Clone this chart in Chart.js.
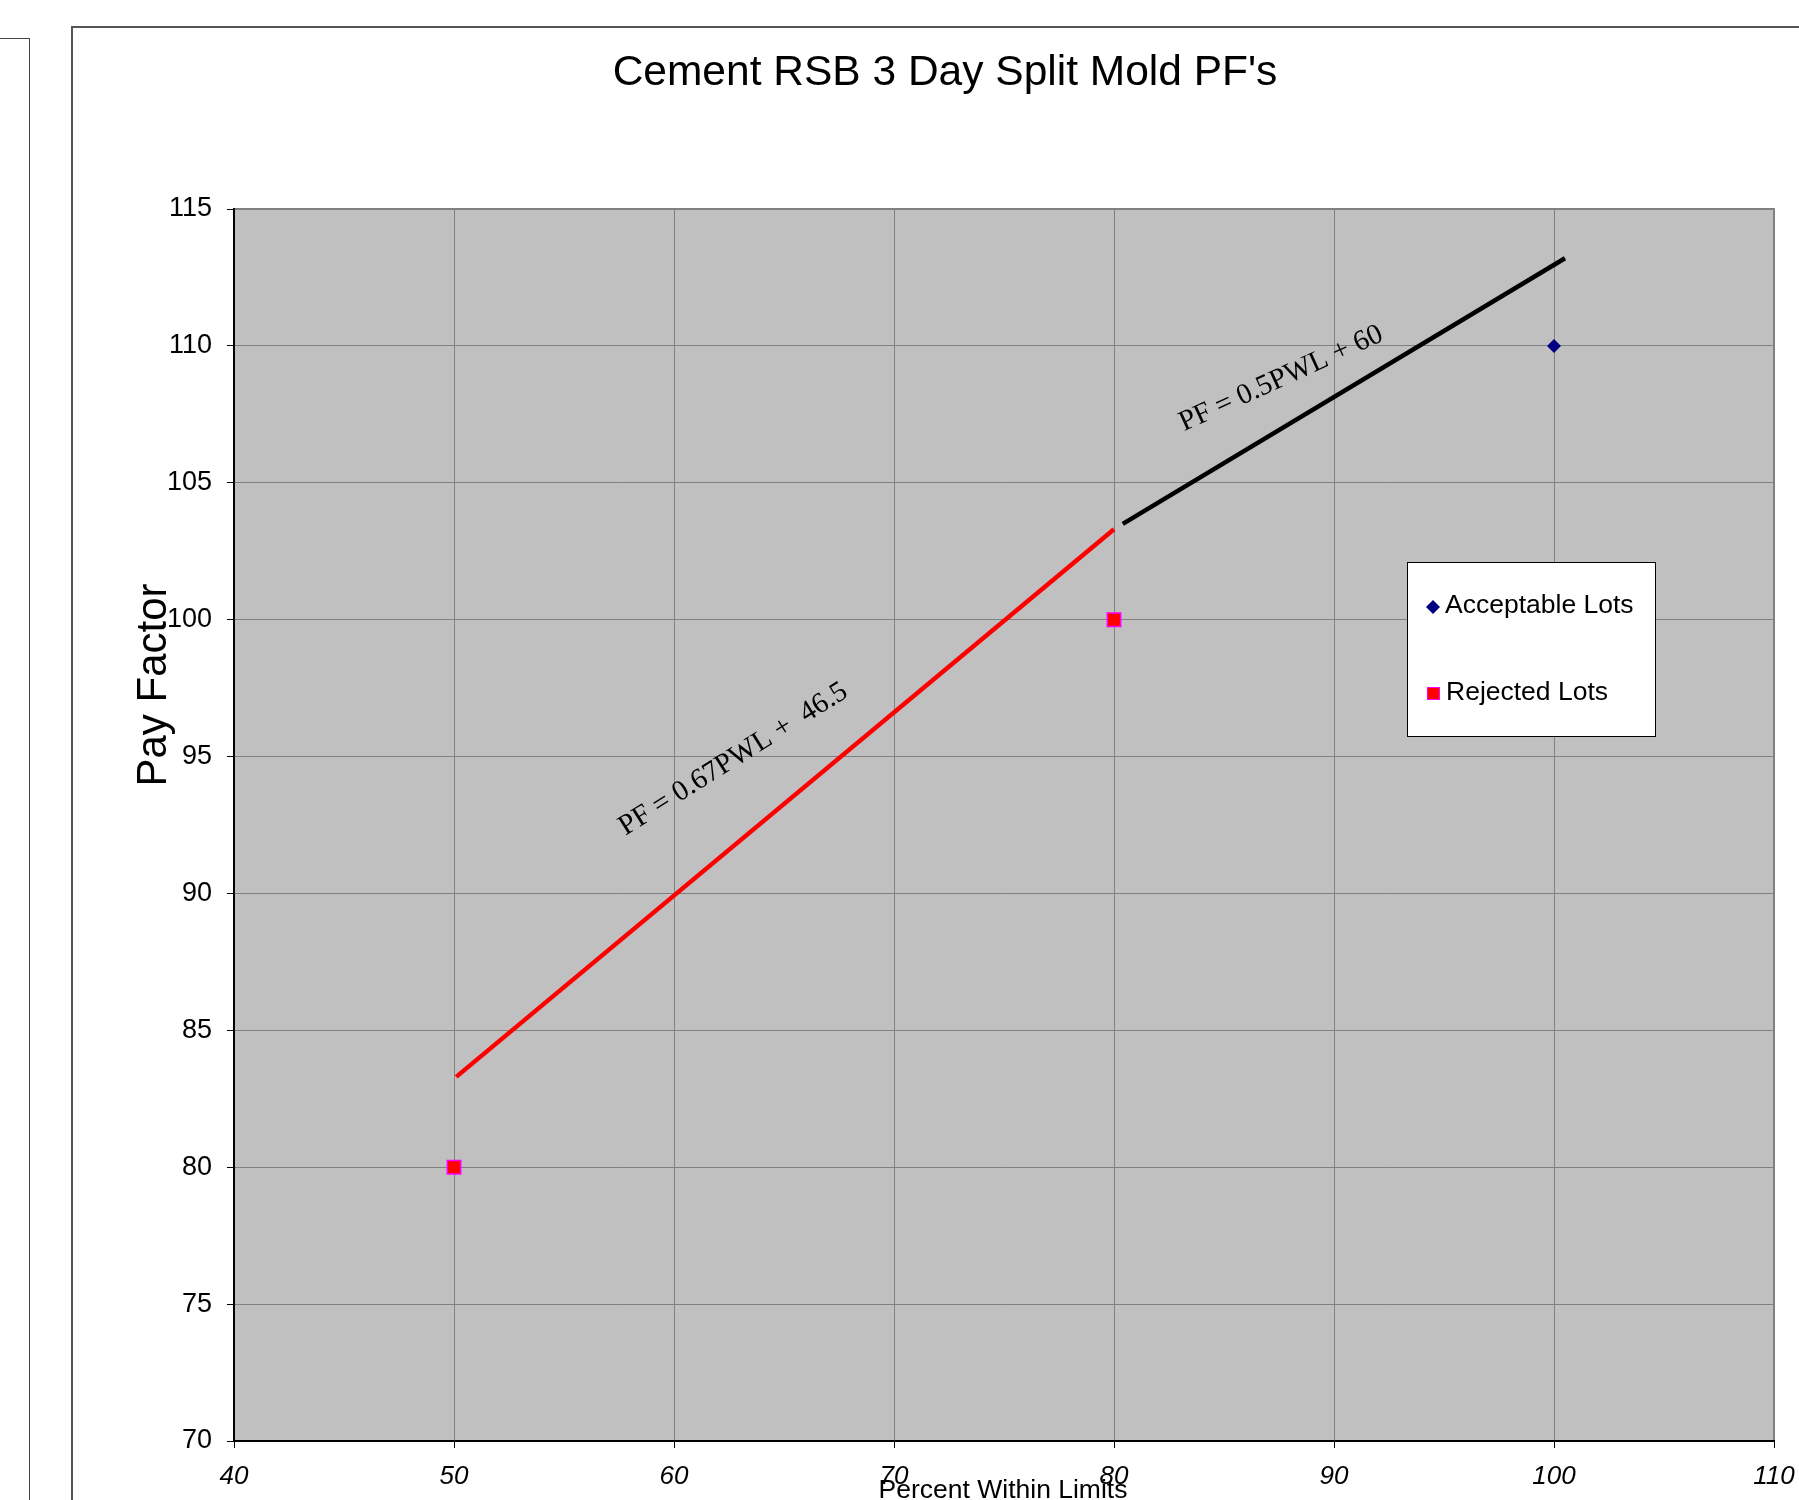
<!DOCTYPE html>
<html>
<head>
<meta charset="utf-8">
<script src="https://cdn.jsdelivr.net/npm/chart.js"></script>
<style>
  body { margin: 0; background: #fff; }
  #wrap { position: relative; width: 1799px; height: 1500px; overflow: hidden; }
  #side { position: absolute; left: -2px; top: 38px; width: 30px; height: 1500px; border: 1px solid #444; }
  #box { position: absolute; left: 71px; top: 26px; width: 1800px; height: 1500px; border: 2px solid #555; }
  canvas { position: absolute; left: 0; top: 0; }
</style>
</head>
<body>
<div id="wrap">
  <div id="side"></div>
  <div id="box"></div>
  <canvas id="c" width="1799" height="1500"></canvas>
</div>
<script>
const titulo = "Cement RSB 3 Day Split Mold PF's";
const tituloX = 'Percent Within Limits';
const tituloY = 'Pay Factor';

const aceptablesX = [100];
const aceptablesY = [110];
const rechazadosX = [50, 80];
const rechazadosY = [80, 100];

// tramos de la curva de pago
const tramoRojoX = [50.1, 80];
const tramoRojoY = [83.3, 103.3];
const tramoNegroX = [80.4, 100.5];
const tramoNegroY = [103.5, 113.2];

const etiquetaRoja = 'PF = 0.67PWL +  46.5';
const etiquetaNegra = 'PF = 0.5PWL + 60';
const leyenda = ['Acceptable Lots', 'Rejected Lots'];

const toPts = (xs, ys) => xs.map((x, i) => ({ x: x, y: ys[i] }));
const SANS = "'Liberation Sans', Arial, sans-serif";
const SERIF = "'Liberation Serif', 'Times New Roman', serif";

const fondo = {
  id: 'fondo',
  beforeDraw(chart) {
    const a = chart.chartArea, ctx = chart.ctx;
    ctx.save();
    ctx.fillStyle = '#C0C0C0';
    ctx.fillRect(a.left, a.top, a.right - a.left, a.bottom - a.top);
    ctx.strokeStyle = '#808080';
    ctx.lineWidth = 2;
    ctx.beginPath();
    ctx.moveTo(a.left, a.top); ctx.lineTo(a.right, a.top); ctx.lineTo(a.right, a.bottom);
    ctx.stroke();
    ctx.restore();
  }
};

const textos = {
  id: 'textos',
  afterDraw(chart) {
    const ctx = chart.ctx, x = chart.scales.x, y = chart.scales.y;
    ctx.save();
    ctx.fillStyle = '#000';
    ctx.textAlign = 'center';
    ctx.textBaseline = 'middle';

    ctx.font = '42.5px ' + SANS;
    ctx.fillText(titulo, 945, 73);

    ctx.font = '26.5px ' + SANS;
    ctx.fillText(tituloX, 1003, 1491);

    ctx.save();
    ctx.translate(154, 685);
    ctx.rotate(-Math.PI / 2);
    ctx.font = '42px ' + SANS;
    ctx.fillText(tituloY, 0, 0);
    ctx.restore();

    ctx.font = '29px ' + SERIF;
    [[etiquetaRoja, 62.7, 94.9, -32], [etiquetaNegra, 87.6, 108.8, -24.5]].forEach(e => {
      ctx.save();
      ctx.translate(x.getPixelForValue(e[1]), y.getPixelForValue(e[2]));
      ctx.rotate(e[3] * Math.PI / 180);
      ctx.fillText(e[0], 0, 0);
      ctx.restore();
    });

    // leyenda
    ctx.fillStyle = '#fff';
    ctx.fillRect(1407, 562, 248, 174);
    ctx.strokeStyle = '#000';
    ctx.lineWidth = 1;
    ctx.strokeRect(1407.5, 562.5, 248, 174);
    ctx.textAlign = 'left';
    ctx.font = '26.5px ' + SANS;
    ctx.fillStyle = '#000';
    ctx.fillText(leyenda[0], 1445, 606);
    ctx.fillText(leyenda[1], 1446, 693);
    ctx.fillStyle = '#000080';
    ctx.beginPath();
    ctx.moveTo(1433, 600); ctx.lineTo(1440, 607); ctx.lineTo(1433, 614); ctx.lineTo(1426, 607);
    ctx.closePath();
    ctx.fill();
    ctx.fillStyle = '#FF0000';
    ctx.strokeStyle = '#FF00FF';
    ctx.fillRect(1427, 687, 13, 13);
    ctx.strokeRect(1427.5, 687.5, 12, 12);
    ctx.restore();
  }
};

new Chart(document.getElementById('c'), {
  type: 'scatter',
  data: {
    datasets: [
      {
        label: leyenda[0],
        data: toPts(aceptablesX, aceptablesY),
        pointStyle: 'rectRot',
        pointRadius: 7,
        backgroundColor: '#000080',
        borderColor: '#000080',
        borderWidth: 0
      },
      {
        label: leyenda[1],
        data: toPts(rechazadosX, rechazadosY),
        pointStyle: 'rect',
        pointRadius: 9.5,
        backgroundColor: '#FF0000',
        borderColor: '#FF00FF',
        borderWidth: 1.5
      },
      {
        label: 'tramo rojo',
        data: toPts(tramoRojoX, tramoRojoY),
        showLine: true,
        pointRadius: 0,
        borderColor: '#FF0000',
        borderWidth: 4.5
      },
      {
        label: 'tramo negro',
        data: toPts(tramoNegroX, tramoNegroY),
        showLine: true,
        pointRadius: 0,
        borderColor: '#000000',
        borderWidth: 4.5
      }
    ]
  },
  options: {
    responsive: false,
    animation: false,
    devicePixelRatio: 1,
    layout: { padding: { top: 209, right: 25, bottom: 0, left: 0 } },
    plugins: { legend: { display: false }, tooltip: { enabled: false } },
    scales: {
      x: {
        type: 'linear',
        min: 40, max: 110,
        afterFit: s => { s.height = 59; s.paddingLeft = 0; s.paddingRight = 0; },
        ticks: { stepSize: 10, padding: 13, color: '#000', font: { family: SANS, size: 26, style: 'italic' } },
        grid: { color: '#808080', lineWidth: 1, tickLength: 7, tickColor: '#000' },
        border: { color: '#000', width: 2 }
      },
      y: {
        type: 'linear',
        min: 70, max: 115,
        afterFit: s => { s.width = 234; s.paddingTop = 0; s.paddingBottom = 0; },
        ticks: { stepSize: 5, padding: 15, color: '#000', font: { family: SANS, size: 27 } },
        grid: { color: '#808080', lineWidth: 1, tickLength: 7, tickColor: '#000' },
        border: { color: '#000', width: 2 }
      }
    }
  },
  plugins: [fondo, textos]
});
</script>
</body>
</html>
